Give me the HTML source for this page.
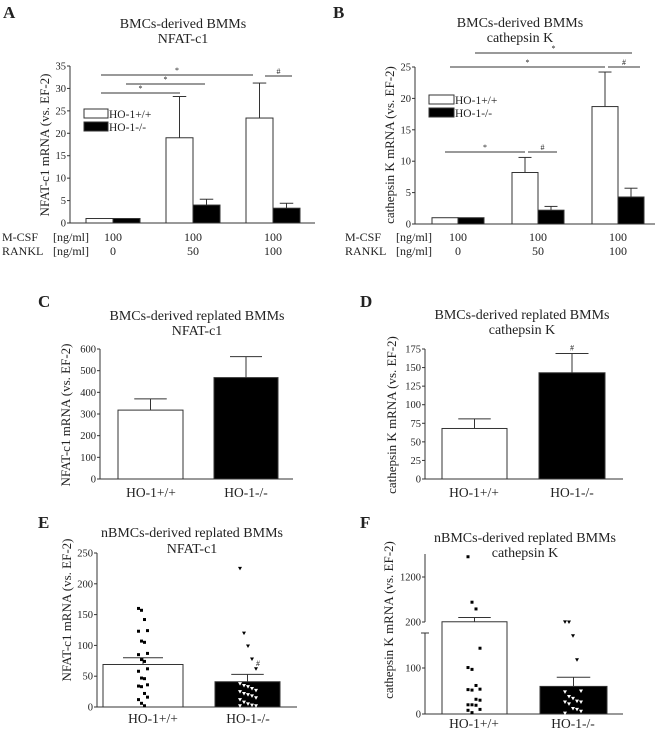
<!DOCTYPE html>
<html><head><meta charset="utf-8">
<style>
html,body{margin:0;padding:0;background:#fff;}
svg{display:block;font-family:"Liberation Serif",serif;}
text{fill:#222;}
</style></head>
<body>
<svg id="fig" width="660" height="732" viewBox="0 0 660 732" xmlns="http://www.w3.org/2000/svg"></svg>
<script>
// Panel A data
const aGroups = ["0","50","100"];
const aWT = [1, 19, 23.4];
const aWTerr = [1, 28.2, 31.2];
const aKO = [1, 4, 3.3];
const aKOerr = [1, 5.3, 4.4];
const aTicks = [0,5,10,15,20,25,30,35];
// Panel B data
const bWT = [1, 8.2, 18.7];
const bWTerr = [1, 10.6, 24.2];
const bKO = [1, 2.2, 4.3];
const bKOerr = [1, 2.8, 5.7];
const bTicks = [0,5,10,15,20,25];
// Panel C
const cVals = [318, 468];
const cErr = [370, 565];
const cTicks = [0,100,200,300,400,500,600];
// Panel D
const dVals = [68, 143];
const dErr = [81, 169];
const dTicks = [0,25,50,75,100,125,150,175];
// Panel E
const eVals = [69, 41];
const eErr = [80, 53];
const eTicks = [0,50,100,150,200,250];
const eWTpts = [160,157,142,124,123,107,105,87,85,77,74,62,58,47,46,36,34,33,22,16,12,6,2];
const eKOpts = [225,120,99,78,62,38,35,33,30,27,25,22,20,18,15,12,8,5,3,2,2];
// Panel F
const fVals = [205, 60];
const fErr = [300, 80];
const fTicks = [0,100,200,1200];
const fWTpts = [1650,640,490,143,101,97,62,54,53,52,32,30,20,20,19,10,8,3];
const fKOpts = [202,200,170,118,50,48,38,34,28,26,26,22,12,10,6,2];

const NS="http://www.w3.org/2000/svg";
const svg=document.getElementById('fig');
const TS=14, AX=13, TK=10.5, XL=13.5, RW=12, LG=11.5, PL=17;
function mk(tag,attrs,txt){const e=document.createElementNS(NS,tag);for(const k in attrs)e.setAttribute(k,attrs[k]);if(txt!==undefined)e.textContent=txt;svg.appendChild(e);return e;}
function line(x1,y1,x2,y2,name,w){const e=mk('line',{x1,y1,x2,y2,stroke:'#333','stroke-width':w||1});

return e;}
function txt(x,y,s,size,name,opts){opts=opts||{};const a={x,y,'font-size':size,'text-anchor':opts.anchor||'middle'};if(opts.bold)a['font-weight']='bold';if(opts.rot)a.transform='rotate(-90 '+x+' '+y+')';const e=mk('text',a,s);

return e;}
function rect(x,y,w,h,fill,name){const e=mk('rect',{x,y,width:w,height:h,fill,stroke:'#333','stroke-width':1});

return e;}
function yAxis(x,y0,y1,ticks,sc,pfx,xEnd){line(x,y0,x,y1,pfx+'-y-axis');line(x,y0,xEnd,y0,pfx+'-x-axis');
ticks.forEach(t=>{const y=sc(t);line(x-3,y,x,y,pfx+'-y-tick');txt(x-4,y+3.5,String(t),TK,pfx+'-y-tick-label',{anchor:'end'});});}
function bar(xl,w,v,err,sc,y0,fill,name){const yt=sc(v);rect(xl,yt,w,y0-yt,fill,name);
if(err>v){const cx=xl+w/2;line(cx,sc(err),cx,yt,name+'-error');line(cx-w/4,sc(err),cx+w/4,sc(err),name+'-error-cap');}}
function sig(x1,x2,y,s,name){line(x1,y,x2,y,name);txt((x1+x2)/2,y-2,s,8,name+'-label');}

// ---------- Panel A ----------
txt(3,18,'A',PL,'panel-a-label',{anchor:'start',bold:1});
txt(183,28,'BMCs-derived BMMs',TS,'panel-a-title');
txt(183,43,'NFAT-c1',TS,'panel-a-subtitle');
const scA=v=>223-v*(157/35);
yAxis(70,223,66,aTicks,scA,'panel-a',315);
txt(49,145,'NFAT-c1 mRNA (vs. EF-2)',AX,'panel-a-y-axis-title',{rot:1});
const aCx=[113,193,273];
aCx.forEach((c,i)=>{bar(c-27,27,aWT[i],aWTerr[i],scA,223,'#fff','panel-a-bar-wt-'+aGroups[i]);bar(c,27,aKO[i],aKOerr[i],scA,223,'#000','panel-a-bar-ko-'+aGroups[i]);
txt(c,241,'100',RW,'panel-a-mcsf-value');txt(c,255,aGroups[i],RW,'panel-a-rankl-value');});
txt(2,241,'M-CSF',RW,'panel-a-mcsf-label',{anchor:'start'});txt(53,241,'[ng/ml]',RW,'panel-a-mcsf-unit',{anchor:'start'});
txt(2,255,'RANKL',RW,'panel-a-rankl-label',{anchor:'start'});txt(53,255,'[ng/ml]',RW,'panel-a-rankl-unit',{anchor:'start'});
rect(84,109,24,9,'#fff','panel-a-legend-wt-swatch');txt(109,118,'HO-1+/+',LG,'panel-a-legend-wt',{anchor:'start'});
rect(84,122,24,9,'#000','panel-a-legend-ko-swatch');txt(109,131,'HO-1-/-',LG,'panel-a-legend-ko',{anchor:'start'});
sig(101,180,93,'*','panel-a-sig-1');sig(126,205,84,'*','panel-a-sig-2');sig(101,253,75,'*','panel-a-sig-3');sig(265,292,76,'#','panel-a-sig-4');

// ---------- Panel B ----------
txt(333,18,'B',PL,'panel-b-label',{anchor:'start',bold:1});
txt(520,27,'BMCs-derived BMMs',TS,'panel-b-title');
txt(520,42,'cathepsin K',TS,'panel-b-subtitle');
const scB=v=>224-v*(157/25);
yAxis(415,224,67,bTicks,scB,'panel-b',655);
txt(394,145,'cathepsin K mRNA (vs. EF-2)',AX,'panel-b-y-axis-title',{rot:1});
const bCx=[458,538,618];
bCx.forEach((c,i)=>{bar(c-26,26,bWT[i],bWTerr[i],scB,224,'#fff','panel-b-bar-wt-'+aGroups[i]);bar(c,26,bKO[i],bKOerr[i],scB,224,'#000','panel-b-bar-ko-'+aGroups[i]);
txt(c,241,'100',RW,'panel-b-mcsf-value');txt(c,255,aGroups[i],RW,'panel-b-rankl-value');});
txt(345,241,'M-CSF',RW,'panel-b-mcsf-label',{anchor:'start'});txt(396,241,'[ng/ml]',RW,'panel-b-mcsf-unit',{anchor:'start'});
txt(345,255,'RANKL',RW,'panel-b-rankl-label',{anchor:'start'});txt(396,255,'[ng/ml]',RW,'panel-b-rankl-unit',{anchor:'start'});
rect(429,95,25,9,'#fff','panel-b-legend-wt-swatch');txt(455,104,'HO-1+/+',LG,'panel-b-legend-wt',{anchor:'start'});
rect(429,108,25,9,'#000','panel-b-legend-ko-swatch');txt(455,117,'HO-1-/-',LG,'panel-b-legend-ko',{anchor:'start'});
sig(475,632,53,'*','panel-b-sig-1');sig(450,605,67,'*','panel-b-sig-2');sig(608,640,67,'#','panel-b-sig-3');sig(445,525,152,'*','panel-b-sig-4');sig(528,557,152,'#','panel-b-sig-5');

// ---------- Panel C ----------
txt(38,307,'C',PL,'panel-c-label',{anchor:'start',bold:1});
txt(197,320,'BMCs-derived replated BMMs',TS,'panel-c-title');
txt(197,335,'NFAT-c1',TS,'panel-c-subtitle');
const scC=v=>479-v*(130/600);
yAxis(100,479,349,cTicks,scC,'panel-c',293);
txt(70,415,'NFAT-c1 mRNA (vs. EF-2)',AX,'panel-c-y-axis-title',{rot:1});
bar(118,65,cVals[0],cErr[0],scC,479,'#fff','panel-c-bar-wt');bar(214,64,cVals[1],cErr[1],scC,479,'#000','panel-c-bar-ko');
txt(151,497,'HO-1+/+',XL,'panel-c-x-label-wt');txt(246,497,'HO-1-/-',XL,'panel-c-x-label-ko');

// ---------- Panel D ----------
txt(360,307,'D',PL,'panel-d-label',{anchor:'start',bold:1});
txt(522,319,'BMCs-derived replated BMMs',TS,'panel-d-title');
txt(522,334,'cathepsin K',TS,'panel-d-subtitle');
const scD=v=>479-v*(130/175);
yAxis(425,479,349,dTicks,scD,'panel-d',623);
txt(396,415,'cathepsin K mRNA (vs. EF-2)',AX,'panel-d-y-axis-title',{rot:1});
bar(442,65,dVals[0],dErr[0],scD,479,'#fff','panel-d-bar-wt');bar(539,66,dVals[1],dErr[1],scD,479,'#000','panel-d-bar-ko');
txt(572,scD(dErr[1])-3,'#',8,'panel-d-sig');
txt(474,497,'HO-1+/+',XL,'panel-d-x-label-wt');txt(572,497,'HO-1-/-',XL,'panel-d-x-label-ko');

// ---------- Panel E ----------
txt(38,528,'E',PL,'panel-e-label',{anchor:'start',bold:1});
txt(192,537,'nBMCs-derived replated BMMs',TS,'panel-e-title');
txt(192,553,'NFAT-c1',TS,'panel-e-subtitle');
const scE=v=>707-v*(154/250);
yAxis(97,707,553,eTicks,scE,'panel-e',297);
txt(71,610,'NFAT-c1 mRNA (vs. EF-2)',AX,'panel-e-y-axis-title',{rot:1});
bar(103,80,eVals[0],eErr[0],scE,707,'#fff','panel-e-bar-wt');bar(215,65,eVals[1],eErr[1],scE,707,'#000','panel-e-bar-ko');
eWTpts.forEach((v,i)=>{const x=143+((i%4)-1.5)*3;const e=mk('rect',{x:x-1.5,y:scE(v)-1.5,width:3,height:3,fill:'#000'});

});
eKOpts.forEach((v,i)=>{const x=248+((i%5)-2)*4;const y=scE(v);const e=mk('polygon',{points:(x-2)+','+(y-1.5)+' '+(x+2)+','+(y-1.5)+' '+x+','+(y+2),fill:v<41?'#fff':'#000'});

});
txt(258,666,'#',8,'panel-e-sig');
txt(153,723,'HO-1+/+',XL,'panel-e-x-label-wt');txt(248,723,'HO-1-/-',XL,'panel-e-x-label-ko');

// ---------- Panel F ----------
txt(360,528,'F',PL,'panel-f-label',{anchor:'start',bold:1});
txt(525,542,'nBMCs-derived replated BMMs',TS,'panel-f-title');
txt(525,557,'cathepsin K',TS,'panel-f-subtitle');
const scF=v=>v<=200?714-v*0.46:622-(v-200)*0.045;
line(425,714,425,633,'panel-f-y-axis-lower');line(421,633,429,633,'panel-f-axis-break');
line(425,622,425,554,'panel-f-y-axis-upper');line(425,714,623,714,'panel-f-x-axis');
fTicks.forEach(t=>{const y=scF(t);line(422,y,425,y,'panel-f-y-tick');txt(421,y+3.5,String(t),TK,'panel-f-y-tick-label',{anchor:'end'});});
txt(393,620,'cathepsin K mRNA (vs. EF-2)',AX,'panel-f-y-axis-title',{rot:1});
bar(442,65,fVals[0],fErr[0],scF,714,'#fff','panel-f-bar-wt');bar(540,67,fVals[1],fErr[1],scF,714,'#000','panel-f-bar-ko');
fWTpts.forEach((v,i)=>{const x=474+((i%4)-1.5)*4;const e=mk('rect',{x:x-1.5,y:scF(v)-1.5,width:3,height:3,fill:'#000'});

});
fKOpts.forEach((v,i)=>{const x=573+((i%5)-2)*4;const y=scF(v);const e=mk('polygon',{points:(x-2)+','+(y-1.5)+' '+(x+2)+','+(y-1.5)+' '+x+','+(y+2),fill:v<60?'#fff':'#000'});

});
txt(474,728,'HO-1+/+',XL,'panel-f-x-label-wt');txt(573,728,'HO-1-/-',XL,'panel-f-x-label-ko');
</script>
</body></html>
